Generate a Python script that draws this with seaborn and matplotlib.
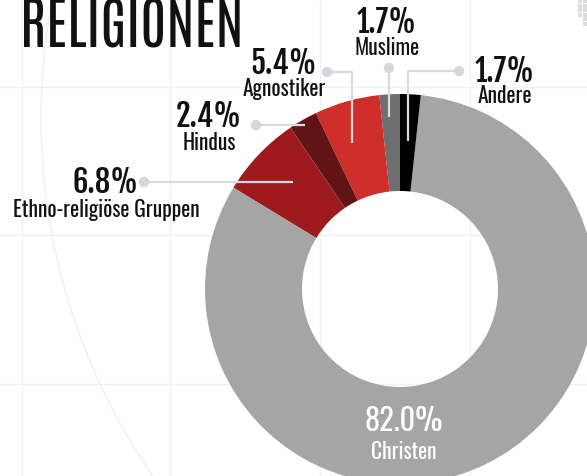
import matplotlib
matplotlib.use("Agg")
import numpy as np
import pandas as pd
import seaborn as sns
import matplotlib.pyplot as plt
from matplotlib import font_manager
from matplotlib.patches import Circle

# data (shares in %), listed counter-clockwise starting at 12 o'clock
labels = ["Muslime", "Agnostiker", "Hindus", "Ethno-religiöse Gruppen", "Christen", "Andere"]
shares = [1.7, 5.4, 2.4, 6.8, 82.0, 1.7]
colors = ["#6f6f6f", "#cf2f2a", "#621315", "#9e1a1d", "#a5a5a5", "#000000"]

# label anchor (centre x, baseline of the percent, baseline of the name)
lab_x = [387, 284, 209, 106, 404, 505]
pct_y = [33, 74, 127, 193, 431, 82]
name_y = [55, 96, 150, 217, 459, 103]

sns.set_theme(style="white")
avail = {f.name for f in font_manager.fontManager.ttflist}
def pick(*names):
    for n in names:
        if n in avail:
            return [n, "DejaVu Sans"]
    return ["DejaVu Sans"]
f_title = pick("Antonio", "Oswald")
f_pct = pick("Fjalla One", "Oswald")
f_lab = pick("Oswald")
plt.rcParams["font.family"] = f_lab

W, H = 587, 476
fig = plt.figure(figsize=(W / 100, H / 100), dpi=100)
ax = fig.add_axes([0, 0, 1, 1])

# faint background grid + arc
for x in [22, 170, 320, 470]:
    ax.axvline(x, color="#f1f1f3", lw=1, zorder=0)
for y in [87, 235, 384]:
    ax.axhline(y, color="#f1f1f3", lw=1, zorder=0)
ax.add_patch(Circle((670, 118), 629, fill=False, ec="#efeff1", lw=1, zorder=0))

# donut (y axis inverted -> counterclock=False draws visually counter-clockwise)
cx, cy, R = 400, 289, 195
ax.pie(shares, colors=colors, startangle=-90, counterclock=False, center=(cx, cy),
       radius=R, wedgeprops=dict(width=97, linewidth=0))

# leader lines
lc = "#d9d9e1"
leaders = {
    "Muslime": ([389, 389], [68, 117]),
    "Agnostiker": ([327, 352, 352], [72, 72, 143]),
    "Hindus": ([256, 305], [125, 125]),
    "Ethno-religiöse Gruppen": ([144, 293], [182, 182]),
    "Andere": ([459, 408, 408], [71, 71, 141]),
}
dots = []
for k, (xs, ys) in leaders.items():
    ax.plot(xs, ys, color=lc, lw=1.6, zorder=3, solid_capstyle="butt")
    dots.append((xs[0], ys[0]))
dots = pd.DataFrame(dots, columns=["x", "y"])
sns.scatterplot(data=dots, x="x", y="y", s=55, color="#d6d6de", edgecolor="none", ax=ax, zorder=4)

# small dotted pattern top right
px = [580, 585, 580, 585, 580, 585, 580, 585, 585, 585]
py = [1, 1, 5.5, 5.5, 10, 10, 14.5, 14.5, 19, 23.5]
ax.scatter(px, py, marker="s", s=7, color="#dcdcdc", lw=0, zorder=1)

# labels
for lab, sh, x, yp, yn in zip(labels, shares, lab_x, pct_y, name_y):
    c = "white" if lab == "Christen" else "#111111"
    ax.text(x, yp, f"{sh:.1f}%", ha="center", va="baseline", fontsize=22,
            family=f_lab if lab == "Christen" else f_pct, color=c, zorder=5)
    ax.text(x, yn, lab, ha="center", va="baseline", fontsize=15.5, color=c, zorder=5)

ax.text(20, 47, "RELIGIONEN", ha="left", va="baseline", fontsize=41, family=f_title,
        color="#111111", zorder=5)

ax.set_xlim(0, W)
ax.set_ylim(H, 0)
ax.set_aspect("equal")
ax.axis("off")
fig.savefig("out.png", dpi=100)
